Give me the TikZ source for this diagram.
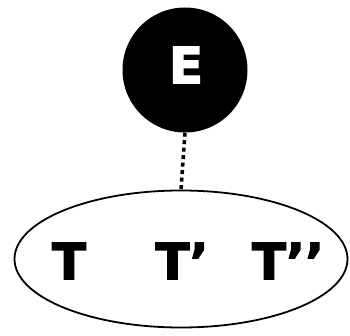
\documentclass[tikz,border=0pt]{standalone}
\usepackage{fontspec}
\newfontfamily\heavy[FakeBold=2.5]{DejaVu Sans Bold}
\usetikzlibrary{shapes.geometric}
\tikzset{
  lbl/.style={font=\fontsize{50}{50}\heavy, inner sep=0pt, anchor=center},
  link/.style={line width=3.5pt, dash pattern=on 4pt off 3.5pt}
}
\begin{document}
\begin{tikzpicture}[x=1pt,y=-1pt]
\useasboundingbox (0,0) rectangle (350,336);
\node[circle, fill=black, minimum size=125pt, inner sep=0pt] (E) at (185,70) {};
\node[lbl, text=white] (Et) at (186,65) {E};
\node[ellipse, draw=black, line width=1.8pt, minimum width=333pt, minimum height=137pt, inner sep=0pt] (set) at (181,259) {};
\node[lbl] (t1) at (69,261) {T};
\node[lbl] (t2) at (182,261) {T’};
\node[lbl] (t3) at (288,261) {T’’};
\draw[link] (E.south) -- (set.north);
\end{tikzpicture}
\end{document}
